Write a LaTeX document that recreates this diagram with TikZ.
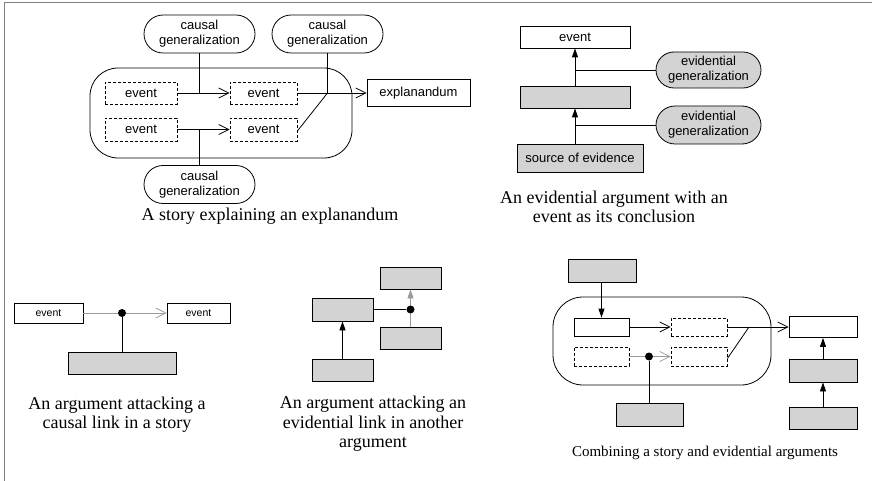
\documentclass[tikz,border=0pt]{standalone}
\usepackage{fontspec}
\setmainfont{Liberation Serif}
\setsansfont{Liberation Sans}
\usetikzlibrary{arrows.meta,shapes.misc}
\definecolor{boxgray}{RGB}{211,211,211}
\definecolor{linkgray}{RGB}{155,155,155}
\definecolor{framegray}{RGB}{128,128,128}

\begin{document}
\begin{tikzpicture}[x=1pt,y=-1pt,line width=0.8pt,
  lbl/.style={font=\sffamily\fontsize{13}{15}\selectfont},
  smalllbl/.style={font=\sffamily\fontsize{10.5}{12}\selectfont},
  rbox/.style={draw,rectangle,inner sep=0pt},
  evbox/.style={rbox,dash pattern=on 3pt off 2pt,lbl},
  whitebox/.style={rbox,fill=white,lbl},
  graybox/.style={rbox,fill=boxgray,lbl},
  gen/.style={draw,rounded rectangle,align=center,inner sep=0pt,
    minimum width=111pt,minimum height=38pt,lbl},
  storybox/.style={draw,rectangle,rounded corners=28pt,inner sep=0pt},
  captext/.style={font=\fontsize{18}{19.5}\selectfont,align=center},
  openarrow/.style={-{Straight Barb[length=10pt,width=10pt]}},
  filledarrow/.style={-{Triangle[length=9pt,width=6pt]}},
  attackdot/.style={circle,fill=black,draw=none,inner sep=0pt,minimum size=8pt}
]
\useasboundingbox (0,0) rectangle (872,481);
% frame
\draw[framegray,line width=1.5pt] (4.5,481) -- (4.5,2.5) -- (872,2.5);

%% ---------- a story explaining an explanandum ----------
\node[storybox,minimum width=262pt,minimum height=90pt] (story) at (221,113) {};
\node[gen] (cg1) at (199.5,34) {causal\\generalization};
\node[gen] (cg2) at (327.5,34) {causal\\generalization};
\node[gen] (cg3) at (199.5,184.5) {causal\\generalization};
\node[evbox,minimum width=72pt,minimum height=22pt] (e1) at (141,93) {event};
\node[evbox,minimum width=67pt,minimum height=22pt] (e2) at (263.5,93) {event};
\node[evbox,minimum width=72pt,minimum height=23pt] (e3) at (141,129.5) {event};
\node[evbox,minimum width=67pt,minimum height=23pt] (e4) at (263.5,129.5) {event};
\node[whitebox,minimum width=103pt,minimum height=27pt] (expl) at (418.5,93) {explanandum};
\draw[openarrow] (e1) -- (e2);
\draw[openarrow] (e3) -- (e4);
\draw[openarrow] (e2) -- (expl);
\coordinate (j1) at (cg1.south |- e1.east);
\coordinate (j2) at (cg2.south |- e2.east);
\coordinate (j3) at (cg3.north |- e3.east);
\draw (cg1.south) -- (j1);
\draw (cg2.south) -- (j2);
\draw (cg3.north) -- (j3);
\draw ([yshift=-1.5pt]e4.east) -- (j2);
\node[captext] (cap1) at (270,216) {A story explaining an explanandum};

%% ---------- an evidential argument ----------
\node[whitebox,minimum width=110pt,minimum height=22pt] (ev) at (575,37) {event};
\node[graybox,minimum width=110pt,minimum height=22pt] (mid) at (575,97) {};
\node[graybox,minimum width=126pt,minimum height=28pt] (src) at (580,158) {source of evidence};
\node[gen,fill=boxgray,minimum width=105pt,minimum height=36pt] (eg1) at (708.5,70) {evidential\\generalization};
\node[gen,fill=boxgray,minimum width=105pt,minimum height=38pt] (eg2) at (708.5,125) {evidential\\generalization};
\draw[filledarrow] (mid) -- (ev);
\draw[filledarrow] (mid.south |- src.north) -- (mid.south);
\draw (eg1.west) -- (ev.south |- eg1.west);
\draw (eg2.west) -- (mid.south |- eg2.west);
\node[captext] (cap2) at (614,207) {An evidential argument with an\\event as its conclusion};

%% ---------- attacking a causal link ----------
\node[whitebox,smalllbl,minimum width=69pt,minimum height=20pt] (a1) at (48.5,313) {event};
\node[whitebox,smalllbl,minimum width=63pt,minimum height=20pt] (a2) at (198.5,313) {event};
\node[graybox,minimum width=108pt,minimum height=22pt] (a3) at (122,363) {};
\draw[openarrow,linkgray] (a1) -- (a2);
\node[attackdot] (ad) at (122,313) {};
\draw (ad) -- (a3);
\node[captext] (cap3) at (117,414.5) {An argument attacking a\\causal link in a story};

%% ---------- attacking an evidential link ----------
\node[graybox,minimum width=61pt,minimum height=23pt] (b1) at (342.5,309.5) {};
\node[graybox,minimum width=61pt,minimum height=22pt] (b2) at (342.5,370) {};
\node[graybox,minimum width=61pt,minimum height=22pt] (b3) at (410.5,278) {};
\node[graybox,minimum width=61pt,minimum height=22pt] (b4) at (410.5,338) {};
\draw[filledarrow] (b2) -- (b1);
\draw[filledarrow,linkgray] (b4) -- (b3);
\node[attackdot] (bd) at (410.5,309.5) {};
\draw (b1) -- (bd);
\node[captext] (cap4) at (373,424) {An argument attacking an\\evidential link in another\\argument};

%% ---------- combining a story and evidential arguments ----------
\node[storybox,rounded corners=30pt,minimum width=218pt,minimum height=88pt] (story2) at (662,341) {};
\node[graybox,minimum width=68pt,minimum height=23pt] (c0) at (602,270.5) {};
\node[whitebox,minimum width=55pt,minimum height=18pt] (w1) at (601.5,327) {};
\node[evbox,minimum width=56pt,minimum height=18pt] (d1) at (699,327) {};
\node[evbox,minimum width=55pt,minimum height=19pt] (d2) at (601.5,356.5) {};
\node[evbox,minimum width=56pt,minimum height=19pt] (d3) at (699,356.5) {};
\node[graybox,minimum width=67pt,minimum height=23pt] (c1) at (649.5,414.5) {};
\node[whitebox,minimum width=68pt,minimum height=21pt] (r1) at (823,327) {};
\node[graybox,minimum width=68pt,minimum height=23pt] (r2) at (823,370.5) {};
\node[graybox,minimum width=68pt,minimum height=22pt] (r3) at (823,418) {};
\draw[filledarrow] (w1.north |- c0.south) -- (w1.north);
\draw[openarrow] (w1) -- (d1);
\draw[openarrow,linkgray] (d2) -- (d3);
\node[attackdot] (cd) at (649,356.5) {};
\draw (cd) -- (cd |- c1.north);
\draw[openarrow] (d1) -- (r1);
\coordinate (j4) at (749,327);
\draw ([yshift=-2pt]d3.east) -- (j4);
\draw[filledarrow] (r2) -- (r1);
\draw[filledarrow] (r3) -- (r2);
\node[captext,font=\fontsize{15}{17}\selectfont] (cap5) at (705,453) {Combining a story and evidential arguments};
\end{tikzpicture}
\end{document}
